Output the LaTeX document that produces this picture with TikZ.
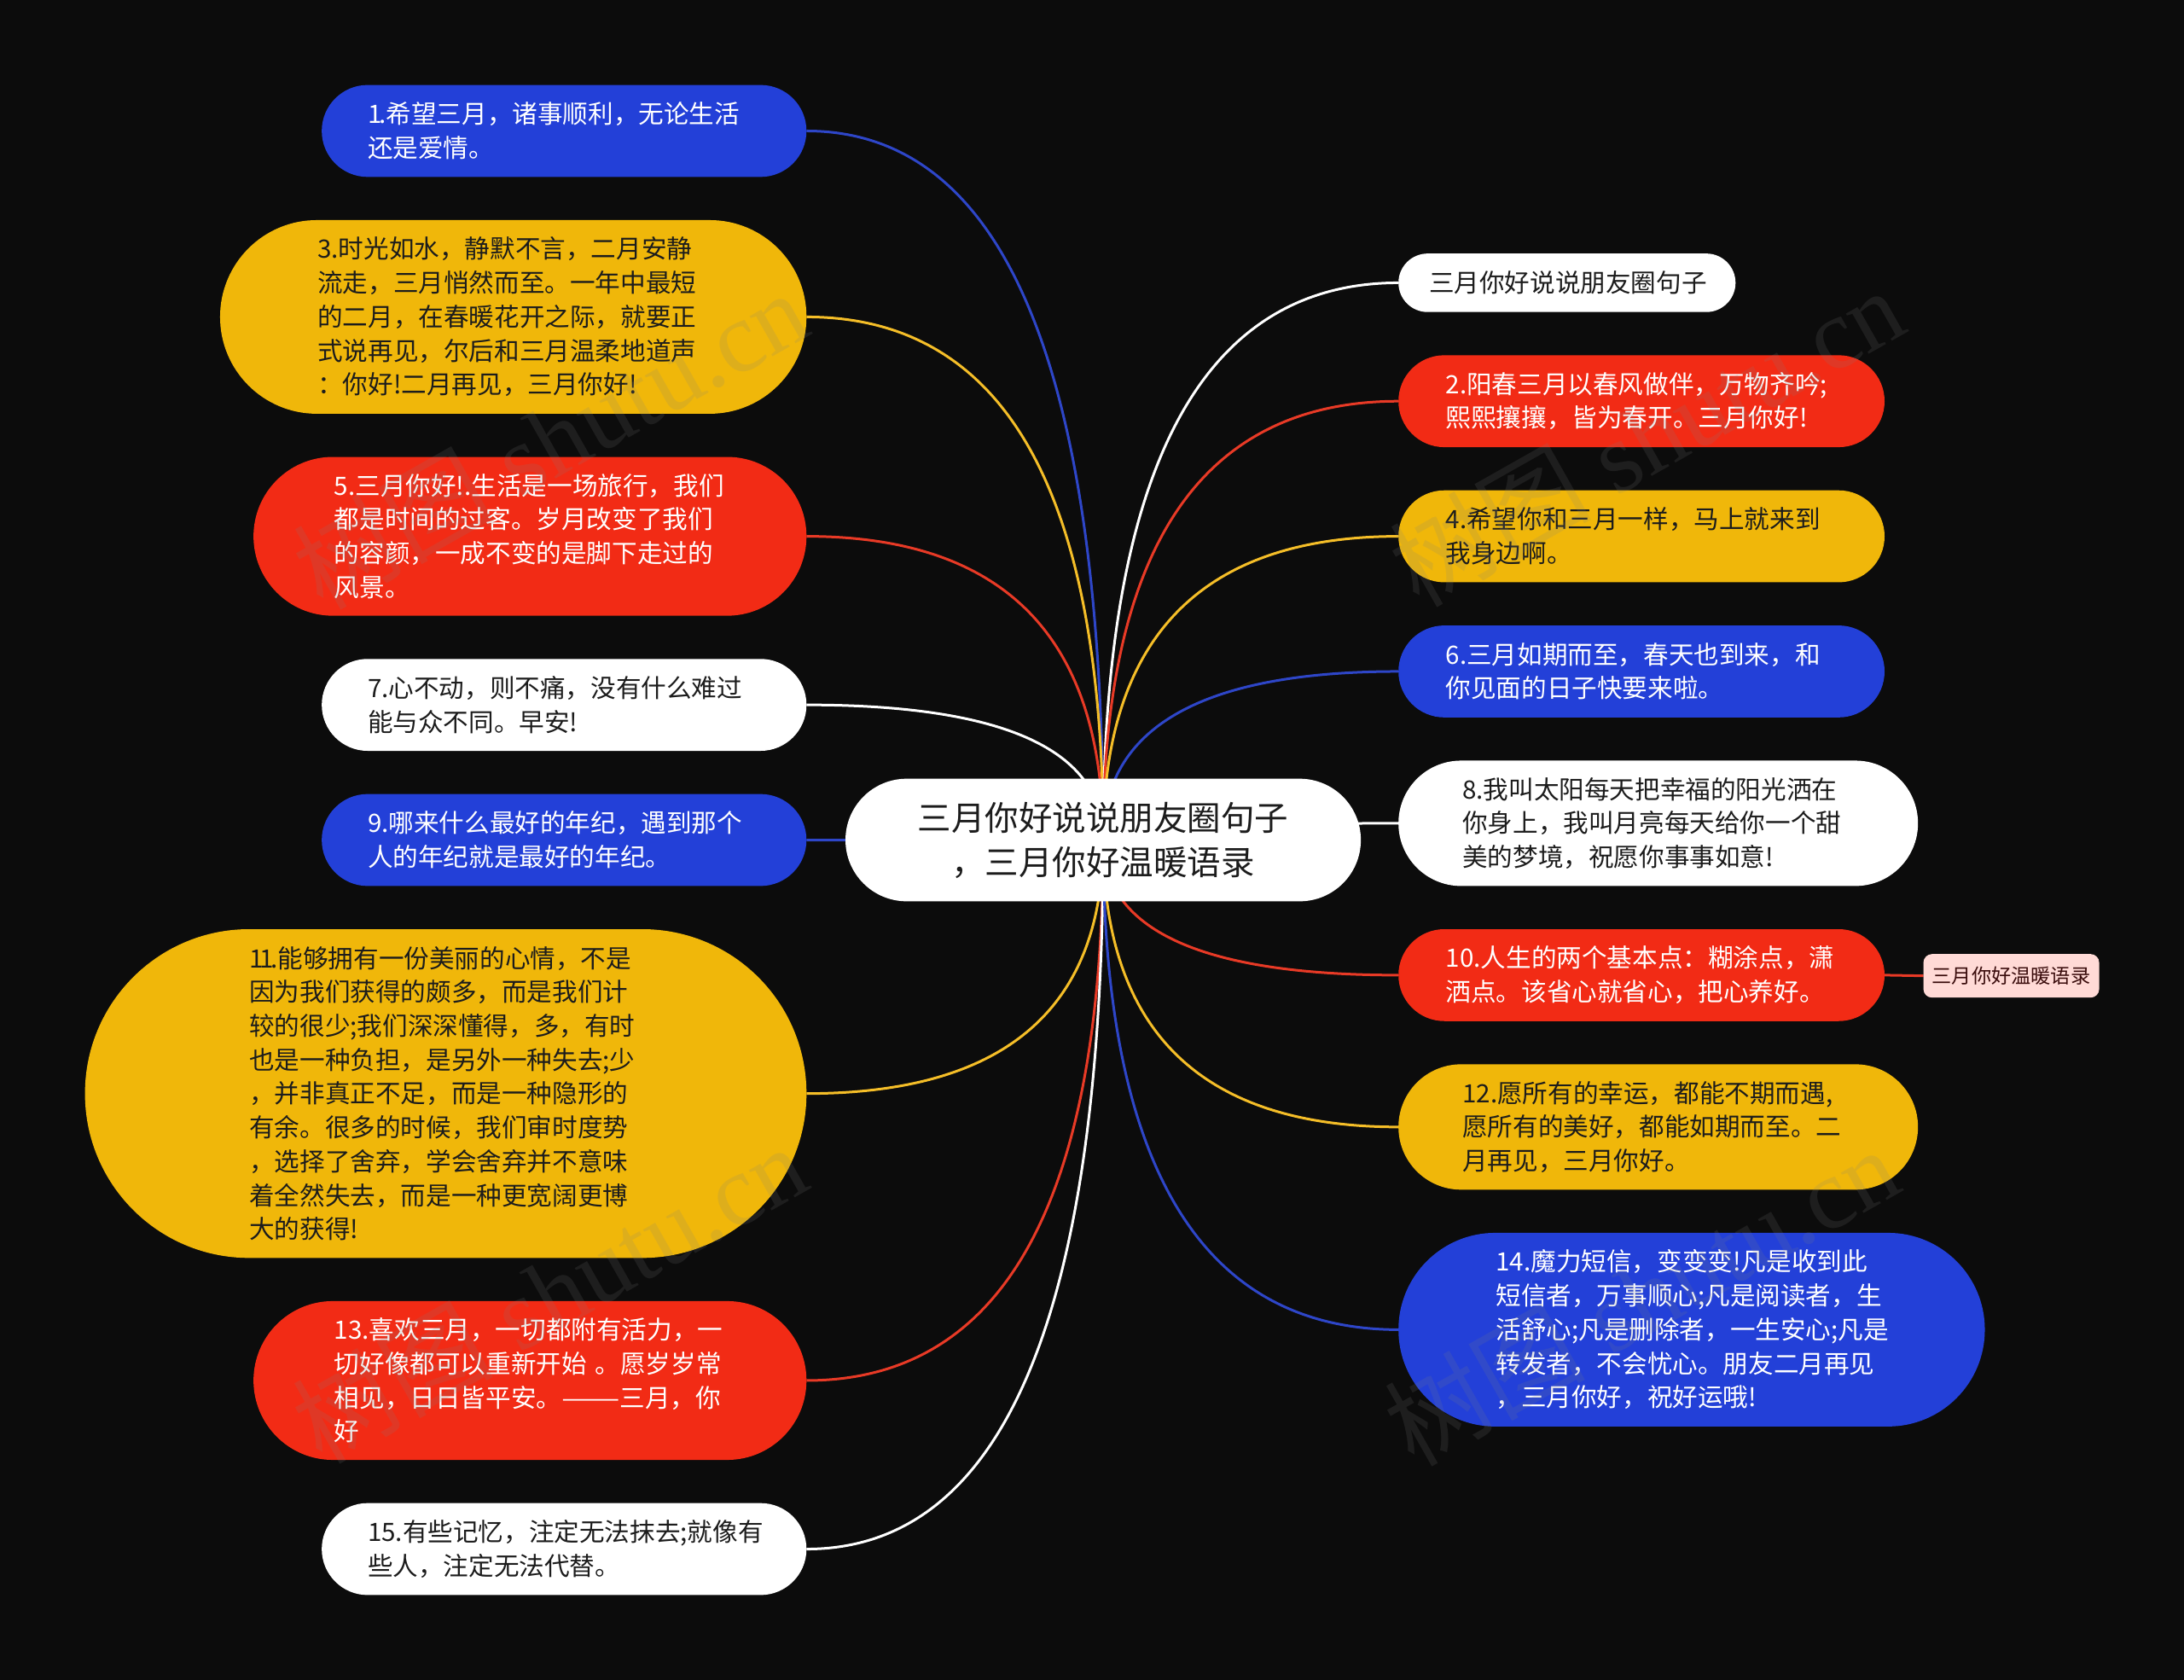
\documentclass[tikz,border=0pt]{standalone}
\usepackage{fontspec}
\setmainfont{Noto Sans CJK SC}
\newfontfamily\wmfont{Liberation Serif}
\newfontfamily\wmcjk{Noto Sans CJK SC}
\usetikzlibrary{calc}
\definecolor{bgc}{HTML}{0C0C0C}
\definecolor{cblue}{HTML}{2340D8}
\definecolor{cred}{HTML}{F22B15}
\definecolor{cyel}{HTML}{F0B70A}
\definecolor{lblue}{HTML}{2E46C8}
\definecolor{lred}{HTML}{E83A26}
\definecolor{lyel}{HTML}{F5BE28}
\definecolor{ink}{HTML}{1C1C1C}
\definecolor{pinkc}{HTML}{FFDAD6}
\definecolor{tagink}{HTML}{3A0C0C}
\pgfdeclarelayer{bglayer}
\pgfdeclarelayer{edgelayer}
\pgfsetlayers{bglayer,edgelayer,main}
\tikzset{
  pillbox/.style={rectangle,inner sep=0pt,outer sep=0pt,align=left,font=\fontsize{14.8}{19.85}\selectfont},
  bluep/.style={fill=cblue,text=white},
  redp/.style={fill=cred,text=white},
  yelp/.style={fill=cyel,text=ink},
  whitep/.style={fill=white,text=ink},
  titlep/.style={fill=white,text=ink,align=center,font=\fontsize{19.75}{26}\selectfont},
  tagbox/.style={rectangle,inner sep=0pt,outer sep=0pt,fill=pinkc,text=tagink,rounded corners=5pt,font=\fontsize{11.6}{14}\selectfont},
  link/.style={line width=1.5pt},
  wmark/.style={text=gray,text opacity=0.16,rotate=29.5,font=\wmfont\fontsize{59}{60}\selectfont,inner sep=0pt},
}
% name, left, top, right, bottom, text-left, style, text
\newcommand\pill[8]{%
  \pgfmathsetlengthmacro\pw{(#4-#2)*0.81633pt}%
  \pgfmathsetlengthmacro\ph{(#5-#3)*0.81633pt}%
  \pgfmathsetlengthmacro\pr{(#5-#3)*0.81633pt*0.4995}%
  \pgfmathsetlengthmacro\tw{((#2+#4)-2*#6)*0.81633pt}%
  \node[pillbox,#7,minimum width=\pw,minimum height=\ph,rounded corners=\pr,text width=\tw] (#1) at ({(#2+#4)/2},{(#3+#5)/2}) {#8};}
\newcommand\conn[2]{%
  \begin{pgfonlayer}{edgelayer}
  \draw[link,#2] (#1.east) .. controls ($(#1.east)!0.667!(hub.center|-#1.east)$) and ($(hub.center)!0.667!(hub.center|-#1.east)$) .. (hub.center);
  \end{pgfonlayer}}
\newcommand\connr[2]{%
  \begin{pgfonlayer}{edgelayer}
  \draw[link,#2] (#1.west) .. controls ($(#1.west)!0.667!(hub.center|-#1.west)$) and ($(hub.center)!0.667!(hub.center|-#1.west)$) .. (hub.center);
  \end{pgfonlayer}}
\begin{document}
\begin{tikzpicture}[x=0.81633pt,y=-0.81633pt]
\begin{pgfonlayer}{bglayer}
\fill[bgc] (0,0) rectangle (1568,1206);
\end{pgfonlayer}
\useasboundingbox (0,0) rectangle (1568,1206);
\pill{hub}{607}{559}{977}{647}{610}{titlep}{三月你好说说朋友圈句子\\，三月你好温暖语录}
\pill{n1}{231}{61}{579}{127}{264}{bluep}{1\kern-.1em.希望三月，诸事顺利，无论生活\\还是爱情。}
\pill{n3}{158}{158}{579}{297}{228}{yelp}{3.时光如水，静默不言，二月安静\\流走，三月悄然而至。一年中最短\\的二月，在春暖花开之际，就要正\\式说再见，尔后和三月温柔地道声\\：你好!二月再见，三月你好!}
\pill{n5}{182}{328}{579}{442}{240}{redp}{5.三月你好!.生活是一场旅行，我们\\都是时间的过客。岁月改变了我们\\的容颜，一成不变的是脚下走过的\\风景。}
\pill{n7}{231}{473}{579}{539}{264}{whitep}{7.心不动，则不痛，没有什么难过\\能与众不同。早安!}
\pill{n9}{231}{570}{579}{636}{264}{bluep}{9.哪来什么最好的年纪，遇到那个\\人的年纪就是最好的年纪。}
\pill{n11}{61}{667}{579}{903}{179}{yelp}{1\kern-.13em 1\kern-.13em.能够拥有一份美丽的心情，不是\\因为我们获得的颇多，而是我们计\\较的很少;我们深深懂得，多，有时\\也是一种负担，是另外一种失去;少\\，并非真正不足，而是一种隐形的\\有余。很多的时候，我们审时度势\\，选择了舍弃，学会舍弃并不意味\\着全然失去，而是一种更宽阔更博\\大的获得!}
\pill{n13}{182}{934}{579}{1048}{240}{redp}{13.喜欢三月，一切都附有活力，一\\切好像都可以重新开始 。愿岁岁常\\\mbox{相见，日日皆平安。\scalebox{1.38}[1]{——}三月，你}\\好}
\pill{n15}{231}{1079}{579}{1145}{264}{whitep}{15.有些记忆，注定无法抹去;就像有\\些人，注定无法代替。}
\pill{r0}{1004}{182}{1246}{224}{1026}{whitep}{三月你好说说朋友圈句子}
\pill{r2}{1004}{255}{1353}{321}{1038}{redp}{2.阳春三月以春风做伴，万物齐吟;\\熙熙攘攘，皆为春开。三月你好!}
\pill{r4}{1004}{352}{1353}{418}{1038}{yelp}{4.希望你和三月一样，马上就来到\\我身边啊。}
\pill{r6}{1004}{449}{1353}{515}{1038}{bluep}{6.三月如期而至，春天也到来，和\\你见面的日子快要来啦。}
\pill{r8}{1004}{546}{1377}{636}{1050}{whitep}{8.我叫太阳每天把幸福的阳光洒在\\你身上，我叫月亮每天给你一个甜\\美的梦境，祝愿你事事如意!}
\pill{r10}{1004}{667}{1353}{733}{1038}{redp}{10.人生的两个基本点：糊涂点，潇\\洒点。该省心就省心，把心养好。}
\pill{r12}{1004}{764}{1377}{854}{1050}{yelp}{12.愿所有的幸运，都能不期而遇,\\愿所有的美好，都能如期而至。二\\月再见，三月你好。}
\pill{r14}{1004}{885}{1425}{1024}{1074}{bluep}{14.魔力短信，变变变!凡是收到此\\短信者，万事顺心;凡是阅读者，生\\活舒心;凡是删除者，一生安心;凡是\\转发者，不会忧心。朋友二月再见\\，三月你好，祝好运哦!}
\node[tagbox,minimum width=103pt,minimum height=25.5pt] (tag) at (1444,700.5) {三月你好温暖语录};
\conn{n1}{lblue}
\conn{n3}{lyel}
\conn{n5}{lred}
\conn{n7}{white}
\conn{n9}{lblue}
\conn{n11}{lyel}
\conn{n13}{lred}
\conn{n15}{white}
\connr{r0}{white}
\connr{r2}{lred}
\connr{r4}{lyel}
\connr{r6}{lblue}
\connr{r8}{white}
\connr{r10}{lred}
\connr{r12}{lyel}
\connr{r14}{lblue}
\begin{pgfonlayer}{edgelayer}
\draw[link,lred] (r10.east) -- (tag.west);
\end{pgfonlayer}
\node[wmark] (wm1) at (395,315) {{\wmcjk 树图} shutu.cn};
\node[wmark] (wm2) at (394,928) {{\wmcjk 树图} shutu.cn};
\node[wmark] (wm3) at (1182,313) {{\wmcjk 树图} shutu.cn};
\node[wmark] (wm4) at (1178,930) {{\wmcjk 树图} shutu.cn};
\end{tikzpicture}
\end{document}
